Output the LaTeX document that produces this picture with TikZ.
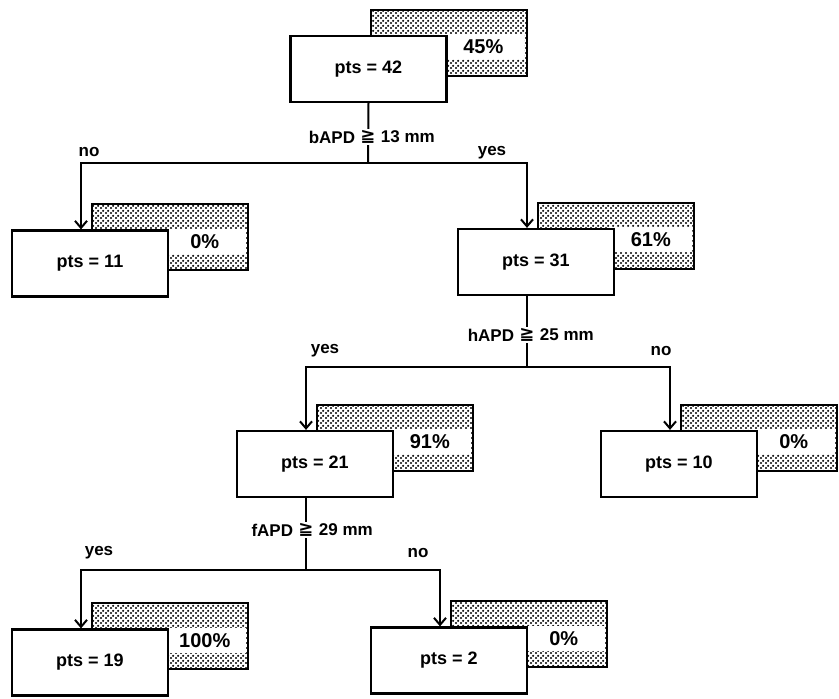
\documentclass[tikz,border=0pt]{standalone}
\usepackage{fontspec}
\setmainfont{Liberation Sans}
\newfontfamily\relfont{DejaVu Sans}
\usetikzlibrary{arrows.meta,positioning,patterns}

\pgfdeclarepatternformonly{stipple}{\pgfpointorigin}{\pgfqpoint{5pt}{5pt}}{\pgfqpoint{5pt}{5pt}}{%
  \pgfpathcircle{\pgfqpoint{1.25pt}{1.25pt}}{1.35pt}%
  \pgfpathcircle{\pgfqpoint{3.75pt}{3.75pt}}{1.35pt}%
  \pgfusepath{fill}}

\begin{document}
\begin{tikzpicture}[
    x=1pt,y=1pt,
    >={Straight Barb[length=7pt,width=12pt]},
    box/.style={draw,fill=white,line width=2.2pt,minimum width=156pt,minimum height=66pt,
                font=\fontsize{18}{20}\selectfont\bfseries},
    shadebox/.style={draw,line width=2pt,pattern=stipple,minimum width=156pt,minimum height=66pt},
    pct/.style={fill=white,anchor=east,minimum width=82pt,minimum height=25pt,inner sep=0pt,
                font=\fontsize{20}{22}\selectfont\bfseries},
    wire/.style={line width=2pt},
    cmp/.style={fill=white,inner xsep=4pt,inner ysep=1pt,font=\relfont\fontsize{18}{20}\selectfont\bfseries},
    lbl/.style={font=\fontsize{17}{19}\selectfont\bfseries,inner sep=1pt}
  ]
  \useasboundingbox (0,0) rectangle (839,699);

  % shaded result boxes
  \node[shadebox] (s42) at (448.5,656) {};
  \node[pct] at ([xshift=-3pt,yshift=-4pt]s42.east) {45\%};
  \node[shadebox] (s11) at (170,461.5) {};
  \node[pct] at ([xshift=-3pt,yshift=-4pt]s11.east) {0\%};
  \node[shadebox] (s31) at (616,463) {};
  \node[pct] at ([xshift=-3pt,yshift=-4pt]s31.east) {61\%};
  \node[shadebox] (s21) at (395,261) {};
  \node[pct] at ([xshift=-3pt,yshift=-4pt]s21.east) {91\%};
  \node[shadebox] (s10) at (759,261) {};
  \node[pct] at ([xshift=-3pt,yshift=-4pt]s10.east) {0\%};
  \node[shadebox] (s19) at (170,62.5) {};
  \node[pct] at ([xshift=-3pt,yshift=-4pt]s19.east) {100\%};
  \node[shadebox] (s2) at (529,64.5) {};
  \node[pct] at ([xshift=-3pt,yshift=-4pt]s2.east) {0\%};

  % patient boxes
  \node[box] (n42) at (368.5,630) {pts = 42};
  \node[box] (n11) at (90,435.5) {pts = 11};
  \node[box] (n31) at (536,437) {pts = 31};
  \node[box] (n21) at (315,235) {pts = 21};
  \node[box] (n10) at (679,235) {pts = 10};
  \node[box] (n19) at (90,36.5) {pts = 19};
  \node[box] (n2) at (449,38.5) {pts = 2};

  % splits
  \coordinate (j1) at (368,536);
  \coordinate (j2) at (527,332);
  \coordinate (j3) at (306,129);
  \draw[wire] (n42.south) -- (j1);
  \draw[wire,->] (j1) -| ([xshift=-9pt]n11.north);
  \draw[wire,->] (j1) -| ([xshift=-9pt]n31.north);
  \draw[wire] ([xshift=-9pt]n31.south) -- (j2);
  \draw[wire,->] (j2) -| ([xshift=-9pt]n21.north);
  \draw[wire,->] (j2) -| ([xshift=-9pt]n10.north);
  \draw[wire] ([xshift=-9pt]n21.south) -- (j3);
  \draw[wire,->] (j3) -| ([xshift=-9pt]n19.north);
  \draw[wire,->] (j3) -| ([xshift=-9pt]n2.north);

  \node[cmp,label={[lbl]left:bAPD},label={[lbl]right:13 mm}] (c1) at (368,562) {≧};
  \node[cmp,label={[lbl]left:hAPD},label={[lbl]right:25 mm}] (c2) at (527,364) {≧};
  \node[cmp,label={[lbl]left:fAPD},label={[lbl]right:29 mm}] (c3) at (306,169) {≧};

  \node[lbl] (no1) at (89,547) {no};
  \node[lbl] (yes1) at (492,546) {yes};
  \node[lbl] (yes2) at (325,348) {yes};
  \node[lbl] (no2) at (661,348) {no};
  \node[lbl] (yes3) at (99,146) {yes};
  \node[lbl] (no3) at (418,146) {no};
\end{tikzpicture}
\end{document}
